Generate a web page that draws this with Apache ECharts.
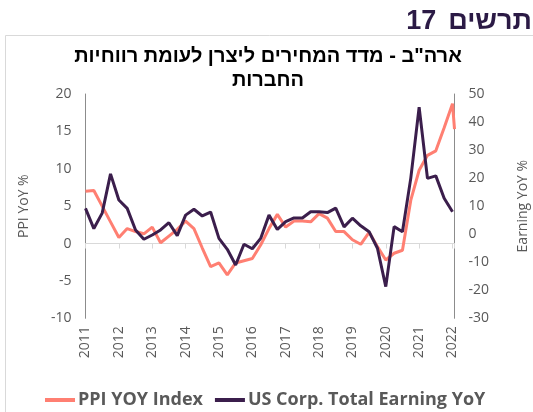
<!DOCTYPE html>
<html><head><meta charset="utf-8">
<script src="https://cdn.jsdelivr.net/npm/echarts@6/dist/echarts.min.js"></script>
<style>html,body{margin:0;padding:0;background:#fff}#c{width:533px;height:412px}</style>
</head><body><div id="c"></div>
<script>
const periods = [2011, 2011.25, 2011.5, 2011.75, 2012, 2012.25, 2012.5, 2012.75, 2013, 2013.25, 2013.5, 2013.75,
  2014, 2014.25, 2014.5, 2014.75, 2015, 2015.25, 2015.5, 2015.75, 2016, 2016.25, 2016.5, 2016.75,
  2017, 2017.25, 2017.5, 2017.75, 2018, 2018.25, 2018.5, 2018.75, 2019, 2019.25, 2019.5, 2019.75,
  2020, 2020.25, 2020.5, 2020.75, 2021, 2021.25, 2021.5, 2021.75, 2022];
const ppiYoY = [7.0, 7.1, 5.0, 2.9, 0.8, 2.0, 1.6, 1.3, 2.2, 0.1, 1.0, 1.9,
  3.0, 2.0, -0.6, -3.1, -2.6, -4.2, -2.6, -2.3, -2.0, -0.2, 2.0, 3.9,
  2.2, 3.0, 3.0, 2.9, 4.0, 3.4, 1.6, 1.6, 0.5, -0.1, 1.5, -0.4,
  -2.2, -1.3, -0.9, 5.8, 9.8, 11.8, 12.4, 15.5, 18.7];
const ppiLastPeriod = 2022.06;
const ppiLastValue = 15.3;
const earningYoY = [9.2, 2.0, 7.5, 21.5, 12.2, 9.2, 1.5, -1.8, -0.3, 1.5, 4.1, -0.5,
  6.8, 8.9, 6.5, 7.9, -1.5, -5.4, -11.0, -3.6, -5.2, -1.5, 6.8, 1.7,
  4.5, 5.8, 5.8, 8.0, 8.0, 7.7, 9.3, 2.6, 5.7, 3.0, 0.9, -5.0,
  -18.7, 2.7, 0.9, 20.0, 45.3, 19.9, 20.8, 12.8, 8.0];
const yearTicks = [2011, 2012, 2013, 2014, 2015, 2016, 2017, 2018, 2019, 2020, 2021, 2022];
const seriesNames = ['PPI YOY Index', 'US Corp. Total Earning YoY'];
const headerWord = 'תרשים';
const headerNumber = '17';
const titleLine1 = 'ארה"ב - מדד המחירים ליצרן לעומת רווחיות';
const titleLine2 = 'החברות';
const leftAxisName = 'PPI YoY %';
const rightAxisName = 'Earning YoY %';

const ppiData = periods.map((p, i) => [p, ppiYoY[i]]).concat([[ppiLastPeriod, ppiLastValue]]);
const earnData = periods.map((p, i) => [p, earningYoY[i]]);

const FONT = '"Open Sans", "Liberation Sans", sans-serif';
const HFONT = '"Liberation Sans", "DejaVu Sans", sans-serif';
const GRAY = '#595959';
const xMin = yearTicks[0], xMax = ppiLastPeriod;
const headerFont = 'bold 27px ' + HFONT;
const mctx = document.createElement('canvas').getContext('2d');
mctx.font = headerFont;
const headerWordW = mctx.measureText(headerWord).width;
const headerSpaceW = mctx.measureText(' ').width;
const headerRight = 532;

const chart = echarts.init(document.getElementById('c'), null, {renderer: 'canvas'});
chart.setOption({
  animation: false,
  backgroundColor: '#fff',
  graphic: [
    {type: 'rect', shape: {x: 5.5, y: 35.5, width: 700, height: 500}, style: {fill: 'none', stroke: '#d9d9d9', lineWidth: 1}, silent: true},
    {type: 'text', x: headerRight, y: 22, style: {text: headerWord, textAlign: 'right', textVerticalAlign: 'middle', font: headerFont, fill: '#2b1a45'}},
    {type: 'text', x: headerRight - headerWordW - headerSpaceW * 1.6, y: 22, style: {text: headerNumber, textAlign: 'right', textVerticalAlign: 'middle', font: headerFont, fill: '#2b1a45'}},
    {type: 'text', x: 268, y: 56, style: {text: titleLine1, textAlign: 'center', textVerticalAlign: 'middle', font: 'bold 20px ' + HFONT, fill: '#000'}},
    {type: 'text', x: 268, y: 80, style: {text: titleLine2, textAlign: 'center', textVerticalAlign: 'middle', font: 'bold 20px ' + HFONT, fill: '#000'}}
  ],
  grid: {left: 85.5, right: 78.5, top: 94, bottom: 93.7, containLabel: false, outerBoundsMode: 'none'},
  legend: {
    left: 40, top: 386, itemWidth: 30, itemHeight: 4, itemGap: 12, icon: 'rect',
    data: seriesNames,
    textStyle: {fontSize: 18, fontWeight: 'bold', color: GRAY, fontFamily: FONT, padding: [0, 0, 0, -2]}
  },
  xAxis: [
    {type: 'value', min: xMin, max: xMax, interval: 1, position: 'bottom',
     axisLine: {show: false}, axisTick: {show: false}, splitLine: {show: false},
     axisLabel: {rotate: 90, margin: 8, color: GRAY, fontSize: 14, fontFamily: FONT, showMaxLabel: false,
       formatter: v => (yearTicks.indexOf(v) >= 0 ? String(v) : '')}},
    {type: 'value', min: xMin, max: xMax, interval: 1, position: 'bottom',
     axisLine: {show: true, onZero: true, onZeroAxisIndex: 0, lineStyle: {color: '#d9d9d9', width: 1}},
     axisTick: {show: true, length: 5, lineStyle: {color: '#d9d9d9'}},
     axisLabel: {show: false}, splitLine: {show: false}}
  ],
  yAxis: [
    {type: 'value', min: -10, max: 20, interval: 5, position: 'left',
     axisLine: {show: true, onZero: false, lineStyle: {color: '#8c8c8c', width: 1}},
     axisTick: {show: false}, splitLine: {show: false},
     axisLabel: {color: GRAY, fontSize: 14, fontFamily: FONT, margin: 14},
     name: leftAxisName, nameLocation: 'middle', nameGap: 54,
     nameTextStyle: {color: GRAY, fontSize: 14, fontFamily: FONT}},
    {type: 'value', min: -30, max: 50, interval: 10, position: 'right',
     axisLine: {show: true, onZero: false, lineStyle: {color: '#8c8c8c', width: 1}},
     axisTick: {show: false}, splitLine: {show: false},
     axisLabel: {color: GRAY, fontSize: 14, fontFamily: FONT, margin: 14},
     name: rightAxisName, nameLocation: 'middle', nameGap: 62,
     nameTextStyle: {color: GRAY, fontSize: 14, fontFamily: FONT}}
  ],
  series: [
    {name: seriesNames[0], type: 'line', xAxisIndex: 0, yAxisIndex: 0, data: ppiData,
     symbol: 'none', lineStyle: {width: 3, color: '#ff7f72'}, itemStyle: {color: '#ff7f72'}, z: 2},
    {name: seriesNames[1], type: 'line', xAxisIndex: 0, yAxisIndex: 1, data: earnData,
     symbol: 'none', lineStyle: {width: 3, color: '#3b1e4c'}, itemStyle: {color: '#3b1e4c'}, z: 3}
  ]
});
</script></body></html>
